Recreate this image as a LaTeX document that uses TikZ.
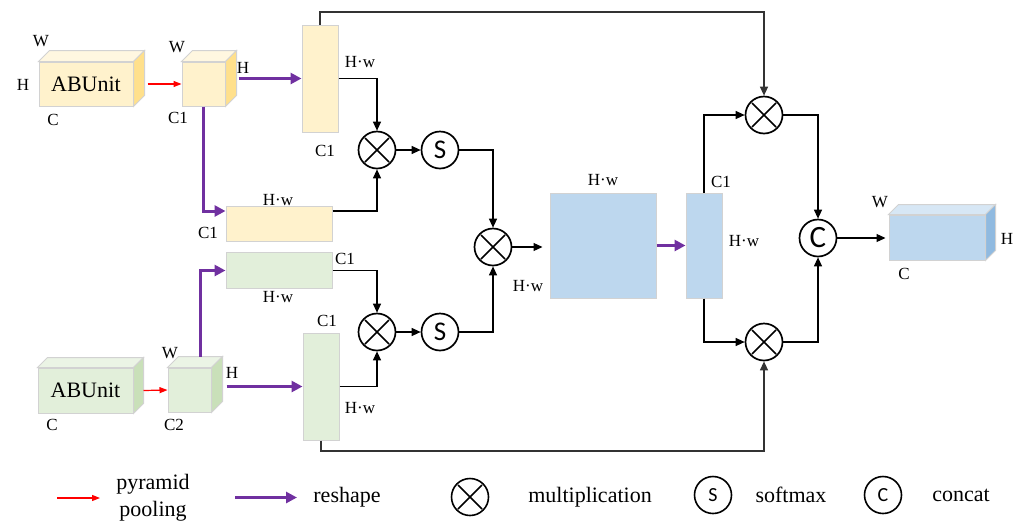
\documentclass[tikz,border=0pt]{standalone}
\usepackage{fontspec}
\setmainfont{Liberation Serif}
\newfontfamily\sansS{Carlito}
\usetikzlibrary{arrows.meta,calc}
\definecolor{yfront}{HTML}{FFF2CC}
\definecolor{ytop}{HTML}{FFF7E0}
\definecolor{yside}{HTML}{FFE08C}
\definecolor{gfront}{HTML}{E2EFDA}
\definecolor{gtop}{HTML}{EBF4E5}
\definecolor{gside}{HTML}{C9E0B9}
\definecolor{bfront}{HTML}{BDD7EE}
\definecolor{btop}{HTML}{D7E7F5}
\definecolor{bside}{HTML}{90BAE0}
\definecolor{edgec}{HTML}{D2D2D2}
\definecolor{purp}{HTML}{7030A0}
\newcommand\cubefaces[4]{%
  \filldraw[fill=#3, draw=edgec, line width=1pt] (#1.north west) -- ($(#1.north west)+(#2,-#2)$) -- ($(#1.north east)+(#2,-#2)$) -- (#1.north east) -- cycle;
  \filldraw[fill=#4, draw=edgec, line width=1pt] (#1.north east) -- ($(#1.north east)+(#2,-#2)$) -- ($(#1.south east)+(#2,-#2)$) -- (#1.south east) -- cycle;
}
\begin{document}
\begin{tikzpicture}[x=1pt,y=-1pt,
  boxy/.style={rectangle, inner sep=0pt, fill=yfront, draw=edgec, line width=1pt},
  boxg/.style={rectangle, inner sep=0pt, fill=gfront, draw=edgec, line width=1pt},
  boxb/.style={rectangle, inner sep=0pt, fill=bfront, draw=edgec, line width=1pt},
  lbl/.style={font=\fontsize{17}{17}\selectfont, inner sep=0pt},
  leg/.style={font=\fontsize{22}{27}\selectfont, inner sep=0pt, align=center},
  mult/.style={circle, draw, line width=1.7pt, minimum size=37pt, inner sep=0pt,
    path picture={\draw[line width=1.7pt] (path picture bounding box.center) ++(-12,-12) -- ++(24,24)
      (path picture bounding box.center) ++(-12,12) -- ++(24,-24);}},
  smx/.style={circle, draw, line width=1.7pt, minimum size=37pt, inner sep=0pt, font=\sansS\fontsize{27}{27}\selectfont},
  legc/.style={circle, draw, line width=1.6pt, minimum size=37pt, inner sep=0pt, font=\sansS\fontsize{20}{20}\selectfont},
  arr/.style={line width=1.2pt, -{Triangle[length=9pt,width=8pt]}},
  garr/.style={line width=1.3pt, black!80, -{Triangle[length=9pt,width=8pt]}},
  parr/.style={line width=3pt, draw=purp, -{Triangle[length=11pt,width=11pt]}},
  rarr/.style={line width=1.2pt, draw=red, -{Triangle[length=8pt,width=6pt]}}]
\useasboundingbox (0,0) rectangle (1019,523);

% ---- top (yellow) branch
\node[boxy, minimum width=94pt, minimum height=44pt] (abY) at (86,84) {};
\cubefaces{abY}{11}{ytop}{yside}
\node[font=\fontsize{22}{22}\selectfont] (abYt) at (86,84) {ABUnit};
\node[boxy, minimum width=43pt, minimum height=44pt] (cY) at (203.5,84) {};
\cubefaces{cY}{11}{ytop}{yside}
\node[boxy, minimum width=36pt, minimum height=107pt] (tY) at (320,78.5) {};
\node[boxy, minimum width=106pt, minimum height=35pt] (hY) at (279,223.5) {};

% ---- bottom (green) branch
\node[boxg, minimum width=95pt, minimum height=45pt] (abG) at (85.5,390.5) {};
\cubefaces{abG}{10}{gtop}{gside}
\node[font=\fontsize{22}{22}\selectfont] (abGt) at (85.5,390.5) {ABUnit};
\node[boxg, minimum width=43pt, minimum height=44pt] (cG) at (189.5,390) {};
\cubefaces{cG}{11}{gtop}{gside}
\node[boxg, minimum width=106pt, minimum height=36pt] (hG) at (279,270.5) {};
\node[boxg, minimum width=36pt, minimum height=107pt] (tG) at (321,386.5) {};

% ---- blue
\node[boxb, minimum width=106pt, minimum height=105pt] (bB) at (603,245.5) {};
\node[boxb, minimum width=36pt, minimum height=105pt] (tB) at (704,245.5) {};
\node[boxb, minimum width=96pt, minimum height=45pt] (oB) at (937,237.5) {};
\cubefaces{oB}{10}{btop}{bside}

% ---- operators
\node[mult] (m1) at (377,150) {};
\node[smx] (s1) at (440,150) {S};
\node[mult] (m2) at (377,332) {};
\node[smx] (s2) at (440,332) {S};
\node[mult] (m3) at (493,247) {};
\node[mult] (m4) at (764,115) {};
\node[mult] (m5) at (764,342) {};
\node[smx, font=\sansS\fontsize{31}{31}\selectfont] (cc) at (818,238) {C};

% ---- connectors
\draw[rarr] ([xshift=14pt]abY.east) -- (cY.west);
\draw[parr] ([xshift=13pt]cY.east |- tY.west) -- (tY.west);
\draw[parr] (cY.south) |- ([yshift=12.5pt]hY.west);
\draw[rarr] ([xshift=10pt]abG.east) -- (cG.west);
\draw[parr] ([xshift=11pt,yshift=11pt]cG.north) |- (hG.west);
\draw[parr] ([xshift=15pt]cG.east |- tG.west) -- (tG.west);

\draw[arr] (tY.east) -| (m1.north);
\draw[arr] ([yshift=12.5pt]hY.east) -| (m1.south);
\draw[arr] (m1.east) -- (s1.west);
\draw[arr] (s1.east) -| (m3.north);
\draw[arr] (hG.east) -| (m2.north);
\draw[arr] (tG.east) -| (m2.south);
\draw[arr] (m2.east) -- (s2.west);
\draw[arr] (s2.east) -| (m3.south);
\draw[arr, shorten >=7pt] (m3.east) -- (m3.east -| bB.west);
\draw[parr] (bB.east) -- (tB.west);
\draw[arr] (tB.north) |- (m4.west);
\draw[arr] (tB.south) |- (m5.west);
\draw[arr] (m4.east) -| (cc.north);
\draw[arr] (m5.east) -| (cc.south);
\draw[arr, shorten >=3pt] (cc.east) -- (cc.east -| oB.west);
\coordinate (tl) at (320,12);
\coordinate (bl) at (321,451);
\draw[garr] (tY.north) -- (tl) -| (m4.north);
\draw[garr] (tG.south) -- (bl) -| (m5.south);

% ---- labels
\node[lbl] (l1) at (41,41) {W};
\node[lbl] (l2) at (23,85) {H};
\node[lbl] (l3) at (53,120) {C};
\node[lbl] (l4) at (177,47) {W};
\node[lbl] (l5) at (243,68) {H};
\node[lbl] (l6) at (178,118) {C1};
\node[lbl] (l7) at (360,62) {H·w};
\node[lbl] (l8) at (325,151) {C1};
\node[lbl] (l9) at (278,200) {H·w};
\node[lbl] (l10) at (208,233) {C1};
\node[lbl] (l11) at (345,259) {C1};
\node[lbl] (l12) at (278,297) {H·w};
\node[lbl] (l13) at (327,321) {C1};
\node[lbl] (l14) at (360,408) {H·w};
\node[lbl] (l15) at (170,353) {W};
\node[lbl] (l16) at (232,373) {H};
\node[lbl] (l17) at (52,425) {C};
\node[lbl] (l18) at (174,425) {C2};
\node[lbl] (l19) at (528,286) {H·w};
\node[lbl] (l20) at (603,180) {H·w};
\node[lbl] (l21) at (721,182) {C1};
\node[lbl] (l22) at (744,241) {H·w};
\node[lbl] (l23) at (880,202) {W};
\node[lbl] (l24) at (1007,239) {H};
\node[lbl] (l25) at (904,274) {C};

% ---- legend
\coordinate (lr1) at (57,498);
\coordinate (lr2) at (100,498);
\draw[rarr] (lr1) -- (lr2);
\node[leg] (lgpy) at (153,498) {pyramid\\pooling};
\coordinate (lp1) at (235,497.5);
\coordinate (lp2) at (297,497.5);
\draw[parr] (lp1) -- (lp2);
\node[leg] (lgre) at (347,497) {reshape};
\node[mult, line width=1.6pt] (lgm) at (470,497) {};
\node[leg] (lgmt) at (590,497) {multiplication};
\node[legc] (lgs) at (713,495) {S};
\node[leg] (lgst) at (791,495) {softmax};
\node[legc] (lgc) at (883,495) {C};
\node[leg] (lgct) at (961,495) {concat};
\end{tikzpicture}
\end{document}
